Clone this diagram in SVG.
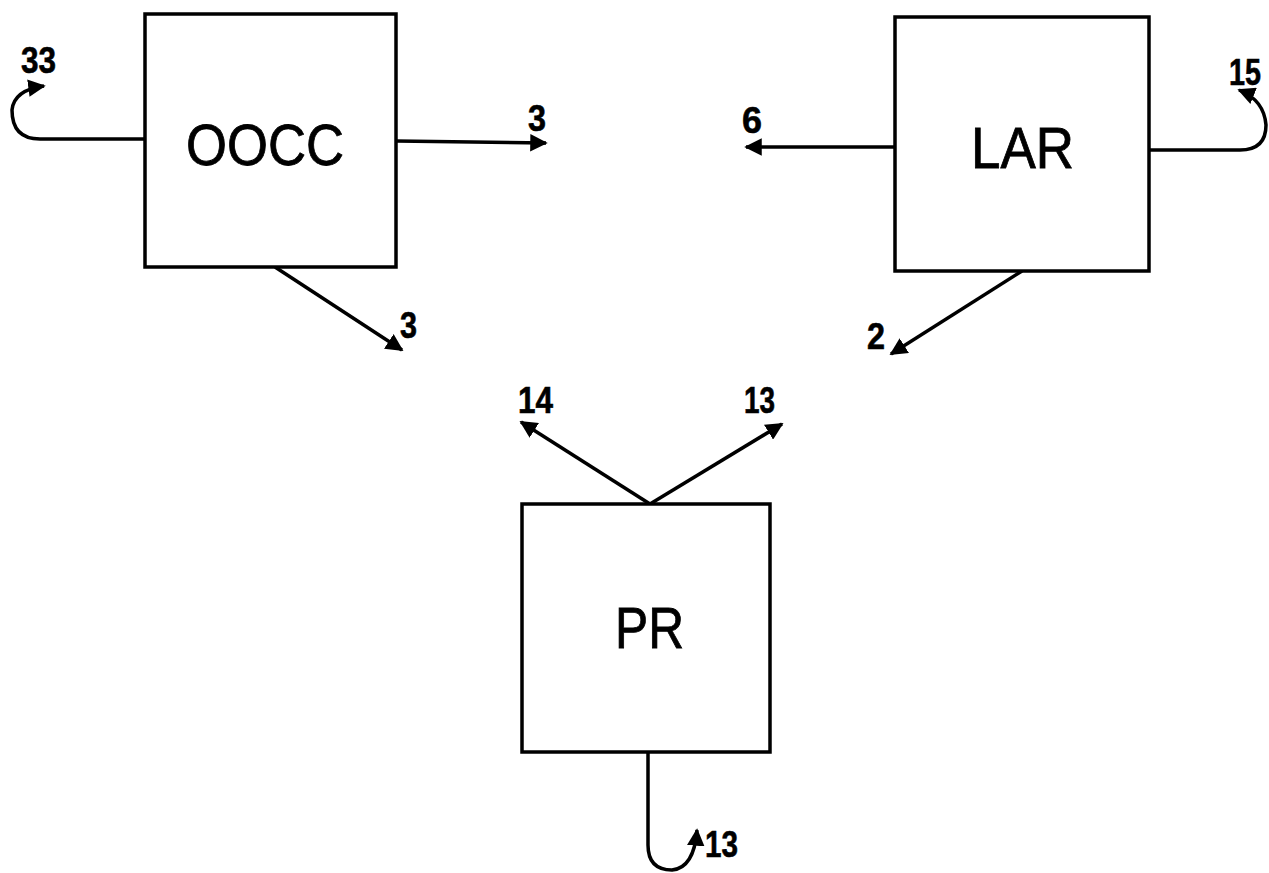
<svg xmlns="http://www.w3.org/2000/svg" width="1269" height="873" viewBox="0 0 1269 873">
<style>
.box{fill:#fff;stroke:#000;stroke-width:3.5}
.c{fill:none;stroke:#000;stroke-width:3.5}
.nt{font-family:"Liberation Sans",Arial,sans-serif;font-size:57px;fill:#000;stroke:#000;stroke-width:0.8}
.lb{font-family:"Liberation Sans Narrow","Liberation Sans",Arial,sans-serif;font-weight:bold;font-size:36px;fill:#000;stroke:#000;stroke-width:0.6}
</style>
<defs>
<marker id="ah" viewBox="0 0 10 10" refX="9" refY="5" markerWidth="5" markerHeight="5" orient="auto" markerUnits="strokeWidth">
<path d="M0,0 L10,5 L0,10 z" fill="#000"/>
</marker>
</defs>
<rect width="1269" height="873" fill="#fff"/>
<g id="connectors">
<path class="c" d="M145,139 H40 Q12,139 12,110 Q14,90 44,86" marker-end="url(#ah)"/>
<path class="c" d="M396,141 L546,143" marker-end="url(#ah)"/>
<path class="c" d="M275,267 L402,350" marker-end="url(#ah)"/>
<path class="c" d="M895,147 L746,147" marker-end="url(#ah)"/>
<path class="c" d="M1149,150 H1240 Q1266,150 1266,125 Q1264,100 1239,90" marker-end="url(#ah)"/>
<path class="c" d="M1022,271 L891,354" marker-end="url(#ah)"/>
<path class="c" d="M650,504 L521,422" marker-end="url(#ah)"/>
<path class="c" d="M650,504 L782,424" marker-end="url(#ah)"/>
<path class="c" d="M648,752 V845 Q648,870 672,870 Q694,868 697,830" marker-end="url(#ah)"/>
</g>
<g id="labels">
<text class="lb" x="21" y="73" textLength="35" lengthAdjust="spacingAndGlyphs">33</text>
<text class="lb" x="528" y="131" textLength="18" lengthAdjust="spacingAndGlyphs">3</text>
<text class="lb" x="400" y="338" textLength="17" lengthAdjust="spacingAndGlyphs">3</text>
<text class="lb" x="742" y="133" textLength="20" lengthAdjust="spacingAndGlyphs">6</text>
<text class="lb" x="867" y="349" textLength="18" lengthAdjust="spacingAndGlyphs">2</text>
<text class="lb" x="1229" y="85" textLength="32" lengthAdjust="spacingAndGlyphs">15</text>
<text class="lb" x="518" y="413" textLength="35" lengthAdjust="spacingAndGlyphs">14</text>
<text class="lb" x="744" y="413" textLength="31" lengthAdjust="spacingAndGlyphs">13</text>
<text class="lb" x="705" y="857" textLength="33" lengthAdjust="spacingAndGlyphs">13</text>
</g>
<g id="OOCC"><rect class="box" x="145" y="14" width="251" height="253"/><text class="nt" x="186" y="165" textLength="158" lengthAdjust="spacingAndGlyphs">OOCC</text></g>
<g id="LAR"><rect class="box" x="895" y="17" width="254" height="254"/><text class="nt" x="971" y="168" textLength="103" lengthAdjust="spacingAndGlyphs">LAR</text></g>
<g id="PR"><rect class="box" x="522" y="504" width="248" height="248"/><text class="nt" x="615" y="648" textLength="69" lengthAdjust="spacingAndGlyphs">PR</text></g>
</svg>
